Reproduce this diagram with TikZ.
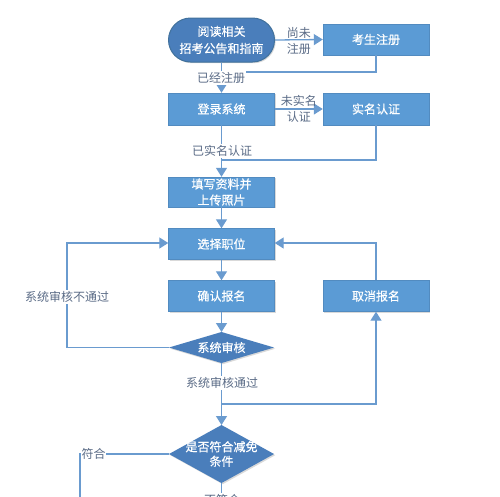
\documentclass[tikz,border=0pt]{standalone}
\usepackage{fontspec}
\setmainfont{Noto Sans CJK SC}
\newfontfamily\boxfont{Noto Sans CJK SC}[FakeBold=0.5]
\usetikzlibrary{shapes.geometric,arrows.meta,calc,shadows}
\definecolor{boxblue}{HTML}{5B9BD5}
\definecolor{darkblue}{HTML}{4A7EBB}
\definecolor{edgeblue}{HTML}{41719C}
\definecolor{lineblue}{HTML}{6A9BCF}
\definecolor{labgray}{HTML}{5A6B86}
\tikzset{
  shad/.style={drop shadow={shadow xshift=1.2pt, shadow yshift=-1.2pt, opacity=0.25, fill=black!60}},
  procbox/.style={rectangle, fill=boxblue, draw=boxblue!90!black, line width=0.4pt, text=white, minimum width=106pt, minimum height=31pt, inner sep=1pt, align=center, font=\boxfont\fontsize{12}{16}\selectfont, shad},
  startbox/.style={rectangle, rounded corners=22pt, fill=darkblue, draw=edgeblue, line width=1pt, text=white, minimum width=106pt, minimum height=44pt, inner sep=1pt, align=center, font=\boxfont\fontsize{12}{17}\selectfont, shad},
  dtext/.style={text=white, align=center, font=\boxfont\fontsize{12}{14.5}\selectfont},
  conn/.style={draw=lineblue, line width=1.3pt},
  arr/.style={conn, -{Triangle[length=9pt,width=11pt]}},
  lab/.style={text=labgray, fill=white, inner sep=1pt, align=center, font=\fontsize{12}{16}\selectfont},
}
\begin{document}
\begin{tikzpicture}[x=1pt,y=-1pt]
\useasboundingbox (0,0) rectangle (500,496);
\clip (0,0) rectangle (500,496);
% nodes
\node[startbox] (start) at (221.5,40) {阅读相关\\招考公告和指南};
\node[procbox] (reg) at (376,39.5) {考生注册};
\node[procbox, minimum height=32pt] (login) at (221.5,109) {登录系统};
\node[procbox, minimum height=32pt] (real) at (376,109) {实名认证};
\node[procbox, minimum height=30pt] (fill) at (221.5,192) {填写资料并\\上传照片};
\node[procbox] (choose) at (221.5,244) {选择职位};
\node[procbox] (confirm) at (221.5,296) {确认报名};
\node[procbox] (cancel) at (376,296) {取消报名};
\path (169,347.5) coordinate (d1l) (274,347.5) coordinate (d1r) (221.5,332) coordinate (d1t) (221.5,363) coordinate (d1b);
\fill[darkblue, shad] (d1l) -- (d1t) -- (d1r) -- (d1b) -- cycle;
\node[dtext] (check) at (221.5,347.5) {系统审核};
\path (169,454) coordinate (d2l) (274,454) coordinate (d2r) (221.5,425) coordinate (d2t) (221.5,483) coordinate (d2b);
\fill[darkblue, shad] (d2l) -- (d2t) -- (d2r) -- (d2b) -- cycle;
\node[dtext] (cond) at (221.5,454) {是否符合减免\\条件};
% coordinates
\coordinate (j1) at (221.5,72);
\coordinate (r1) at (376,72);
\coordinate (j2) at (221.5,160);
\coordinate (r2) at (376,160);
\coordinate (lc1) at (67,347.5);
\coordinate (lc2) at (67,243);
\coordinate (rc1) at (376,243);
\coordinate (j3) at (221.5,404);
\coordinate (r3) at (376,404);
\coordinate (fl) at (80,454);
\coordinate (fb) at (80,500);
\coordinate (nb) at (221.5,500);
% connectors
\draw[arr] (start.east) -- (reg.west) node[midway, lab, fill=none, yshift=-1pt] {尚未\\注册};
\draw[conn] (reg.south) -- (r1) -- (j1);
\draw[arr] (start.south) -- (login.north);
\node[lab] (l1) at (221,78) {已经注册};
\draw[arr] (login.east) -- (real.west) node[midway, lab, fill=none] {未实名\\认证};
\draw[conn] (real.south) -- (r2) -- (j2);
\draw[arr] (login.south) -- (fill.north);
\node[lab] (l2) at (222,151) {已实名认证};
\draw[arr] (fill.south) -- (choose.north);
\draw[arr] (choose.south) -- (confirm.north);
\draw[arr] (confirm.south) -- (d1t);
\draw[arr] (d1l) -- (lc1) -- (lc2) -- (choose.west |- lc2);
\node[lab] (l3) at (67,297) {系统审核不通过};
\draw[arr] (cancel.north) -- (rc1) -- (choose.east |- rc1);
\draw[arr] (d1b) -- (d2t);
\node[lab] (l4) at (222,383) {系统审核通过};
\draw[arr] (j3) -- (r3) -- (cancel.south);
\draw[conn] (d2l) -- (fl) -- (fb);
\node[lab, anchor=west, inner sep=0.5pt] (l5) at (81,454) {符合};
\draw[conn] (d2b) -- (nb);
\node[lab] (l6) at (222,500) {不符合};
\end{tikzpicture}
\end{document}
